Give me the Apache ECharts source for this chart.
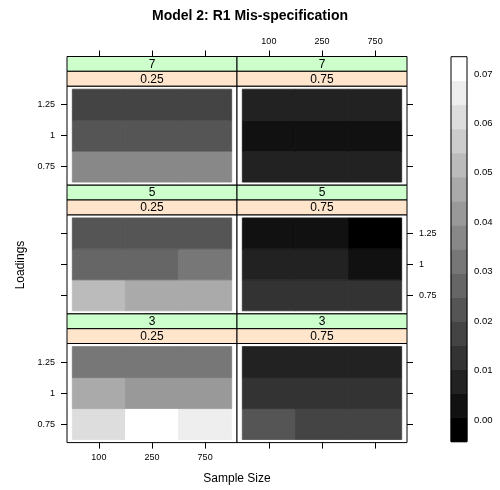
<!DOCTYPE html>
<html>
<head>
<meta charset="utf-8">
<script src="https://cdn.jsdelivr.net/npm/echarts@6/dist/echarts.min.js"></script>
<style>html,body{margin:0;padding:0;background:#fff}#c{width:500px;height:490px}</style>
</head>
<body>
<div id="c"></div>
<script>
// ---- data ----
const sampleSizes = ['100', '250', '750'];          // x categories
const loadings = ['0.75', '1', '1.25'];              // y categories (bottom to top)
const outerLevels = ['7', '5', '3'];                 // green strip, rows top to bottom
const innerLevels = ['0.25', '0.75'];                // peach strip, columns
const colorTicks = [0, 0.01, 0.02, 0.03, 0.04, 0.05, 0.06, 0.07];
// values: rows = loadings (0.75, 1, 1.25), columns = sample sizes (100, 250, 750)
const v7_025 = [[0.0370, 0.0370, 0.0370], [0.0224, 0.0224, 0.0224], [0.0175, 0.0175, 0.0175]];
const v7_075 = [[0.0078, 0.0078, 0.0078], [0.0029, 0.0029, 0.0029], [0.0078, 0.0078, 0.0078]];
const v5_025 = [[0.0516, 0.0468, 0.0468], [0.0273, 0.0273, 0.0321], [0.0224, 0.0224, 0.0224]];
const v5_075 = [[0.0127, 0.0127, 0.0127], [0.0078, 0.0078, 0.0029], [0.0029, 0.0029, -0.0044]];
const v3_025 = [[0.0614, 0.0735, 0.0662], [0.0468, 0.0419, 0.0419], [0.0321, 0.0321, 0.0321]];
const v3_075 = [[0.0224, 0.0175, 0.0175], [0.0127, 0.0127, 0.0127], [0.0078, 0.0078, 0.0078]];
const panelValues = [[v7_025, v7_075], [v5_025, v5_075], [v3_025, v3_075]];

// ---- colour scale (16 equal bins over data range, grey ramp) ----
const allVals = panelValues.flat(3);
const zMin = Math.min(...allVals), zMax = Math.max(...allVals);
const nBins = 16;
const edges = [];
for (let k = 0; k <= nBins; k++) edges.push(zMin + k * (zMax - zMin) / nBins);
edges[nBins] = zMax;
function grey(k) {
  const g = Math.round(255 * k / (nBins - 1)).toString(16).padStart(2, '0');
  return '#' + g + g + g;
}
const pieces = [];
for (let k = 0; k < nBins; k++) {
  const p = { gte: edges[k], color: grey(k) };
  if (k === nBins - 1) p.lte = edges[k + 1]; else p.lt = edges[k + 1];
  pieces.push(p);
}

// ---- layout ----
const FONT = 'Liberation Sans';
const left0 = 67, colW = 170, stripTop0 = 56.5, rowPitch = 128.7, stripH = 14.8;
const panelH = rowPitch - 2 * stripH;

const grids = [], xAxes = [], yAxes = [], series = [], graphics = [];
const axisCommon = {
  type: 'value', min: 0.4, max: 3.6,
  axisLine: { show: false }, splitLine: { show: false },
};
for (let r = 0; r < 3; r++) {
  for (let c = 0; c < 2; c++) {
    const gi = grids.length;
    const left = left0 + c * colW;
    const stripTop = stripTop0 + r * rowPitch;
    const top = stripTop + 2 * stripH;
    grids.push({ left: left, top: top, width: colW, height: panelH, show: true,
      borderColor: '#000', borderWidth: 1, backgroundColor: '#fff' });
    xAxes.push(Object.assign({}, axisCommon, {
      gridIndex: gi, show: r !== 1,
      position: r === 0 ? 'top' : 'bottom', offset: r === 0 ? 2 * stripH : 0,
      axisTick: { show: true, length: 6, customValues: [1, 2, 3], lineStyle: { color: '#000' } },
      axisLabel: { show: (r === 0 && c === 1) || (r === 2 && c === 0), customValues: [1, 2, 3],
        formatter: v => sampleSizes[Math.round(v) - 1], fontSize: 9, color: '#000', margin: 10, fontFamily: FONT }
    }));
    yAxes.push(Object.assign({}, axisCommon, {
      gridIndex: gi, position: c === 0 ? 'left' : 'right',
      axisTick: { show: true, length: 6, customValues: [1, 2, 3], lineStyle: { color: '#000' } },
      axisLabel: { show: (c === 0 && r !== 1) || (c === 1 && r === 1), customValues: [1, 2, 3],
        formatter: v => loadings[Math.round(v) - 1], fontSize: 9, color: '#000', margin: 12, fontFamily: FONT }
    }));
    const data = [];
    const vals = panelValues[r][c];
    for (let yi = 0; yi < loadings.length; yi++)
      for (let xi = 0; xi < sampleSizes.length; xi++)
        data.push([xi + 1, yi + 1, vals[yi][xi]]);
    series.push({
      type: 'custom', xAxisIndex: gi, yAxisIndex: gi, data: data,
      encode: { x: 0, y: 1 },
      renderItem: function (params, api) {
        const x = api.value(0), y = api.value(1);
        const p1 = api.coord([x - 0.5, y + 0.5]);
        const p2 = api.coord([x + 0.5, y - 0.5]);
        const col = api.visual('color');
        return { type: 'rect', shape: { x: p1[0], y: p1[1], width: p2[0] - p1[0], height: p2[1] - p1[1] },
          style: { fill: col, stroke: col, lineWidth: 0.8 } };
      }
    });
    // strips
    graphics.push({ type: 'rect', shape: { x: left, y: stripTop, width: colW, height: stripH },
      style: { fill: '#CCFFCC', stroke: '#000', lineWidth: 1 }, z: 50 });
    graphics.push({ type: 'rect', shape: { x: left, y: stripTop + stripH, width: colW, height: stripH },
      style: { fill: '#FFE5CC', stroke: '#000', lineWidth: 1 }, z: 50 });
    graphics.push({ type: 'text', x: left + colW / 2, y: stripTop + stripH / 2 + 0.5, z: 51,
      style: { text: outerLevels[r], font: '12px ' + FONT, fill: '#000', align: 'center', verticalAlign: 'middle' } });
    graphics.push({ type: 'text', x: left + colW / 2, y: stripTop + 1.5 * stripH + 0.5, z: 51,
      style: { text: innerLevels[c], font: '12px ' + FONT, fill: '#000', align: 'center', verticalAlign: 'middle' } });
  }
}

// colour key
const keyLeft = 451, keyTop = 56.7, keyW = 16, keyH = 385;
const kgi = grids.length;
grids.push({ left: keyLeft, top: keyTop, width: keyW, height: keyH, show: false });
xAxes.push({ type: 'value', gridIndex: kgi, min: 0, max: 1, show: false });
yAxes.push({ type: 'value', gridIndex: kgi, min: zMin, max: zMax, position: 'right',
  axisLine: { show: false }, splitLine: { show: false },
  axisTick: { show: true, length: 4, customValues: colorTicks, lineStyle: { color: '#000' } },
  axisLabel: { show: true, customValues: colorTicks, formatter: v => v.toFixed(2), fontSize: 9.5,
    color: '#000', margin: 7, fontFamily: FONT } });
const keyData = [];
for (let k = 0; k < nBins; k++) keyData.push([edges[k], edges[k + 1], k]);
series.push({
  type: 'custom', xAxisIndex: kgi, yAxisIndex: kgi, data: keyData,
  encode: { y: [0, 1] },
  renderItem: function (params, api) {
    const p1 = api.coord([0, api.value(1)]);
    const p2 = api.coord([1, api.value(0)]);
    const col = grey(api.value(2));
    return { type: 'rect', shape: { x: p1[0], y: p1[1], width: p2[0] - p1[0], height: p2[1] - p1[1] },
      style: { fill: col, stroke: col, lineWidth: 0.8 } };
  }
});
graphics.push({ type: 'rect', shape: { x: keyLeft, y: keyTop, width: keyW, height: keyH },
  style: { fill: null, stroke: '#000', lineWidth: 1 }, z: 60 });

// axis titles
graphics.push({ type: 'text', x: 237, y: 479, z: 10,
  style: { text: 'Sample Size', font: '12px ' + FONT, fill: '#000', align: 'center', verticalAlign: 'middle' } });
graphics.push({ type: 'text', x: 21, y: 265, rotation: Math.PI / 2, z: 10,
  style: { text: 'Loadings', font: '12px ' + FONT, fill: '#000', align: 'center', verticalAlign: 'middle' } });

const chart = echarts.init(document.getElementById('c'), null, { renderer: 'canvas' });
chart.setOption({
  animation: false,
  backgroundColor: '#fff',
  textStyle: { fontFamily: FONT },
  title: { text: 'Model 2: R1 Mis-specification', left: 'center', top: 4,
    textStyle: { fontSize: 14, fontWeight: 'bold', color: '#000', fontFamily: FONT } },
  grid: grids, xAxis: xAxes, yAxis: yAxes,
  visualMap: { type: 'piecewise', show: false, dimension: 2, seriesIndex: [0, 1, 2, 3, 4, 5], pieces: pieces },
  series: series,
  graphic: graphics
});
</script>
</body>
</html>
